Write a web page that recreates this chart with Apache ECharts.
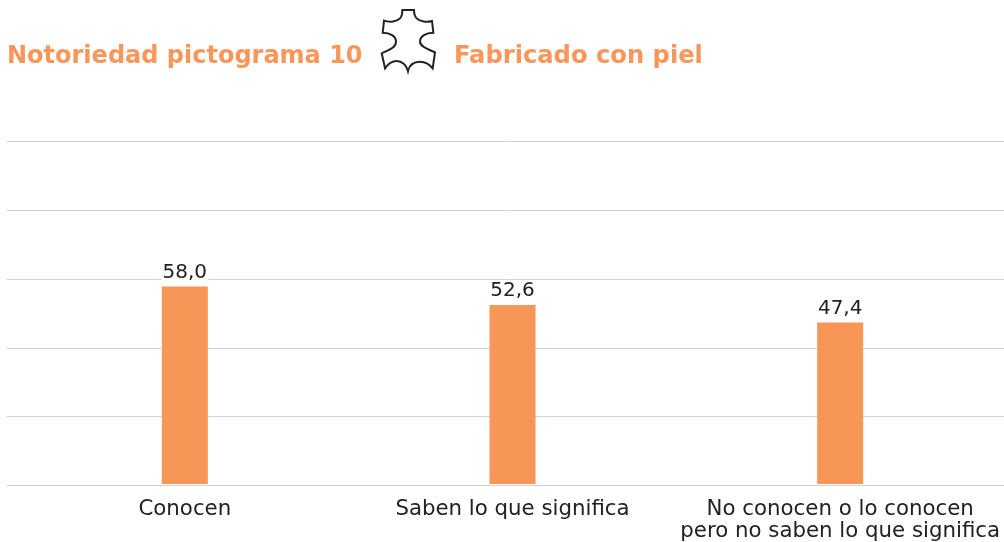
<!DOCTYPE html>
<html><head><meta charset="utf-8">
<style>html,body{margin:0;padding:0;background:#fff}#c{width:1004px;height:542px}</style>
<script src="https://cdn.jsdelivr.net/npm/echarts@6/dist/echarts.min.js"></script>
</head><body><div id="c"></div>
<script>
const categories = ['Conocen', 'Saben lo que significa', 'No conocen o lo conocen\npero no saben lo que significa'];
const values = [58.0, 52.6, 47.4];
const titleLeft = 'Notoriedad pictograma 10';
const titleRight = 'Fabricado con piel';
const FONT = '"DejaVu Sans", sans-serif';
const ORANGE = '#F89658';
const ICON = 'M97 30 L132 30 C132 45 135 50 140 55 C150 65 170 68 186 63 L190 98 C168 98 150 108 150 125 C150 140 175 148 195 157 L188 205 C180 195 165 185 150 185 C132 185 118 195 114 213 C110 195 95 183 80 183 C68 183 55 190 45 205 L35 160 C60 148 78 142 78 125 C78 108 60 98 38 98 L42 62 C60 68 80 65 90 55 C95 50 97 45 97 30 Z';
const chart = echarts.init(document.getElementById('c'), null, {renderer: 'canvas'});
chart.setOption({
  animation: false,
  backgroundColor: '#fff',
  title: [
    {text: titleLeft, left: 2, top: 40, textStyle: {fontFamily: FONT, fontSize: 24, fontWeight: 700, color: '#F9975A'}},
    {text: titleRight, left: 449, top: 40, textStyle: {fontFamily: FONT, fontSize: 24.2, fontWeight: 700, color: '#F9975A'}}
  ],
  grid: [
    {left: 7, top: 141.4, width: 997, height: 344},
    {left: 21, top: 143.5, width: 985, height: 342}
  ],
  xAxis: [
    {gridIndex: 0, type: 'category', data: categories, axisLine: {show: false}, axisTick: {show: false}, axisLabel: {show: false}},
    {gridIndex: 1, type: 'category', data: categories, axisLine: {show: false}, axisTick: {show: false},
     axisLabel: {interval: 0, margin: 14, fontFamily: FONT, fontSize: 21.3, lineHeight: 22, color: '#222'}}
  ],
  yAxis: [
    {gridIndex: 0, type: 'value', min: 0, max: 100, interval: 20, axisLabel: {show: false}, axisLine: {show: false}, axisTick: {show: false},
     splitLine: {lineStyle: {color: '#d2d2d2', width: 1}}},
    {gridIndex: 1, type: 'value', min: 0, max: 100, interval: 20, show: false, splitLine: {show: false}}
  ],
  series: [{
    type: 'bar', xAxisIndex: 1, yAxisIndex: 1, data: values, barWidth: 46,
    itemStyle: {color: ORANGE},
    label: {show: true, position: 'top', distance: 4, fontFamily: FONT, fontSize: 20, color: '#222',
      backgroundColor: '#fff', padding: [0, 1, 0, 1],
      formatter: p => p.value.toFixed(1).replace('.', ',')}
  }, {
    type: 'custom', coordinateSystem: 'none', data: [0], silent: true,
    renderItem: () => ({
      type: 'path',
      shape: {pathData: ICON, layout: 'cover', x: 381.7, y: 10, width: 53.3, height: 61},
      style: {fill: 'none', stroke: '#222', lineWidth: 2}
    })
  }]
});
</script></body></html>
